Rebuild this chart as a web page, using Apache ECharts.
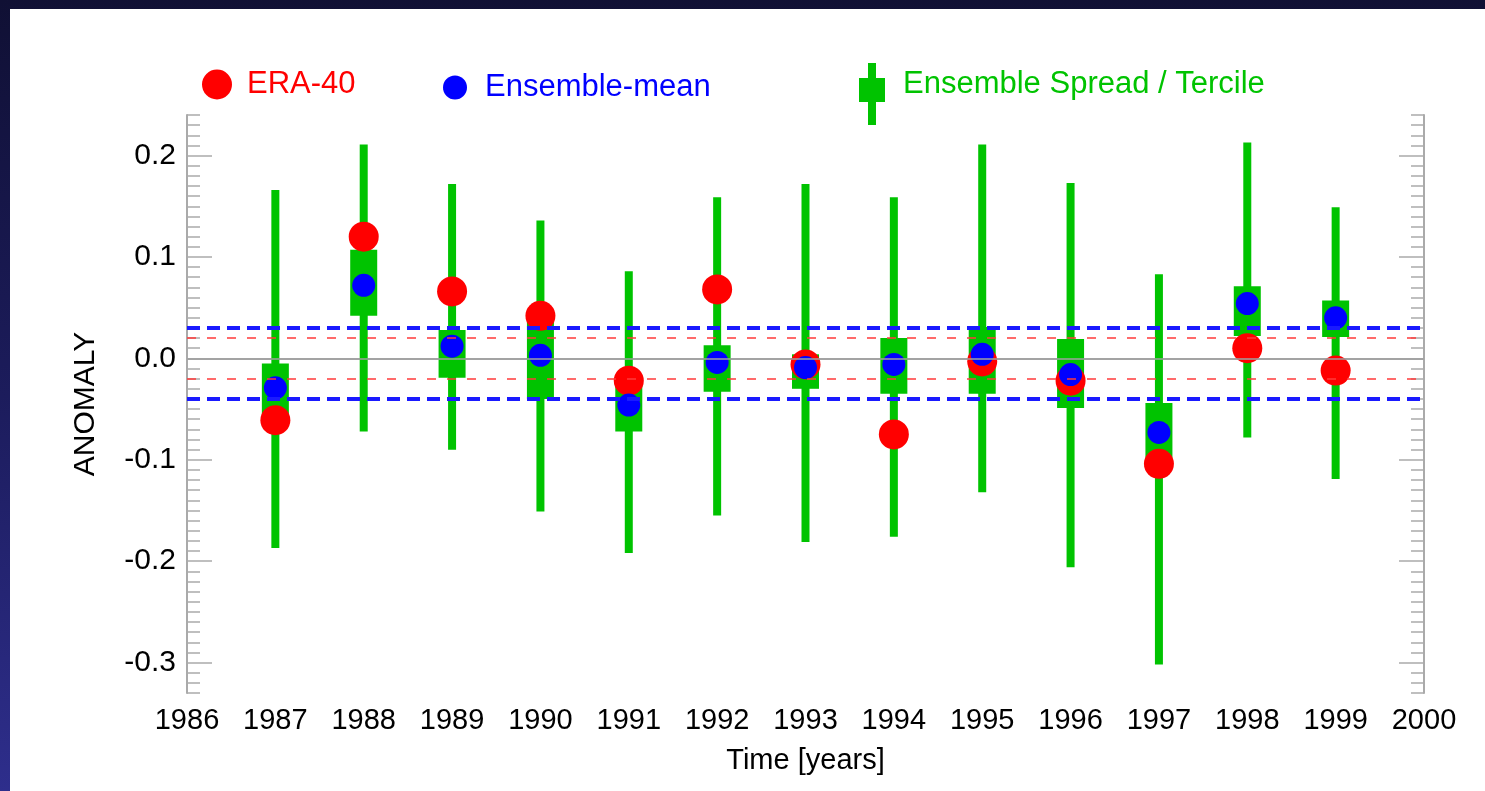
<!DOCTYPE html>
<html>
<head>
<meta charset="utf-8">
<title>ERA-40 vs ensemble anomaly</title>
<script src="https://cdn.jsdelivr.net/npm/echarts@6/dist/echarts.min.js"></script>
<style>
  html, body { margin: 0; padding: 0; }
  body {
    width: 1485px; height: 791px; overflow: hidden; position: relative;
    background: linear-gradient(180deg, #101034 0%, #1c1c5c 50%, #2e2e8c 100%);
  }
  #chart { position: absolute; left: 10px; top: 9px; width: 1475px; height: 782px; background: #fff; }
</style>
</head>
<body>
<div id="chart"></div>
<script>
// data
var years     = [1987, 1988, 1989, 1990, 1991, 1992, 1993, 1994, 1995, 1996, 1997, 1998, 1999];
var era40     = [-0.061, 0.120, 0.066, 0.042, -0.022, 0.068, -0.006, -0.075, -0.003, -0.022, -0.104, 0.010, -0.012];
var ensMean   = [-0.029, 0.072, 0.012, 0.003, -0.046, -0.004, -0.009, -0.006, 0.004, -0.016, -0.073, 0.054, 0.040];
var spreadMin = [-0.187, -0.072, -0.090, -0.151, -0.192, -0.155, -0.181, -0.176, -0.132, -0.206, -0.302, -0.078, -0.119];
var spreadMax = [0.166, 0.211, 0.172, 0.136, 0.086, 0.159, 0.172, 0.159, 0.211, 0.173, 0.083, 0.213, 0.149];
var tercLow   = [-0.062, 0.042, -0.019, -0.040, -0.072, -0.033, -0.030, -0.035, -0.035, -0.049, -0.098, 0.022, 0.021];
var tercHigh  = [-0.005, 0.107, 0.028, 0.036, -0.025, 0.013, 0.004, 0.020, 0.031, 0.019, -0.044, 0.071, 0.057];

// reference lines
var ensBand   = [0.033, -0.035];   // blue dashed
var eraBand   = [0.021, -0.022];   // red dashed
var yTicks    = [-0.3, -0.2, -0.1, 0.0, 0.1, 0.2];

var FONT = "'Liberation Sans', Arial, Helvetica, sans-serif";
var GREEN = '#00c300';
var frame = { show: true, lineStyle: { color: '#aaaaaa', width: 2 } };

var chart = echarts.init(document.getElementById('chart'));

var markData = [{ yAxis: 0, lineStyle: { color: '#a0a0a0', width: 1.5, type: 'solid' } }];
eraBand.forEach(function (v) {
    markData.push({ yAxis: v, lineStyle: { color: '#ff3a3a', width: 1.5, type: [9, 11] } });
});
ensBand.forEach(function (v) {
    markData.push({ yAxis: v, lineStyle: { color: '#1a1aff', width: 4, type: [13, 7] } });
});

var option = {
    animation: false,
    textStyle: { fontFamily: FONT },
    grid: { left: 177, right: 61, top: 106, bottom: 98 },
    legend: [
        {
            left: 192, top: 60, padding: 0, selectedMode: false,
            itemWidth: 30, itemHeight: 30,
            data: [{ name: 'ERA-40', icon: 'circle' }],
            textStyle: { color: '#ff0000', fontSize: 31, fontFamily: FONT, padding: [0, 0, 0, 10] }
        },
        {
            left: 433, top: 63, padding: 0, selectedMode: false,
            itemWidth: 24, itemHeight: 24,
            data: [{ name: 'Ensemble-mean', icon: 'circle' }],
            textStyle: { color: '#0000ff', fontSize: 31, fontFamily: FONT, padding: [0, 0, 0, 13] }
        },
        {
            // tiny stub at y=-20 lifts the icon's box so the label sits level with the others
            left: 849, top: 34, padding: 0, selectedMode: false,
            itemWidth: 26, itemHeight: 82,
            data: [{
                name: 'Ensemble Spread / Tercile',
                icon: 'path://M13,-20 L13.01,-20 L13,-20 Z M9,0 L17,0 L17,15 L26,15 L26,39 L17,39 L17,62 L9,62 L9,39 L0,39 L0,15 L9,15 Z'
            }],
            textStyle: { color: GREEN, fontSize: 31, fontFamily: FONT, padding: [0, 0, 0, 13] }
        }
    ],
    xAxis: [
        {
            type: 'value', position: 'bottom', min: 1986, max: 2000, interval: 1,
            axisLine: frame,
            axisTick: { inside: true, length: 12, lineStyle: { color: '#aaaaaa', width: 1.5 } },
            axisLabel: {
                color: '#000', fontSize: 29, margin: 13, fontFamily: FONT,
                formatter: function (v) { return String(v); }
            },
            splitLine: { show: false },
            name: 'Time [years]', nameLocation: 'middle', nameGap: 53,
            nameTextStyle: { color: '#000', fontSize: 29, fontFamily: FONT }
        },
        {
            type: 'value', position: 'top', min: 1986, max: 2000, interval: 1,
            axisLine: frame,
            axisTick: { inside: true, length: 12, lineStyle: { color: '#aaaaaa', width: 1.5 } },
            axisLabel: { show: false },
            splitLine: { show: false }
        }
    ],
    yAxis: [
        {
            type: 'value', position: 'left', min: -0.33, max: 0.24,
            axisLine: frame,
            axisTick: { inside: true, length: 25, customValues: yTicks, lineStyle: { color: '#aaaaaa', width: 1.5 } },
            axisLabel: {
                customValues: yTicks, color: '#000', fontSize: 30, margin: 11, fontFamily: FONT,
                formatter: function (v) { return v.toFixed(1); }
            },
            splitLine: { show: false },
            name: 'ANOMALY', nameLocation: 'middle', nameGap: 86, nameRotate: 90,
            nameTextStyle: { color: '#000', fontSize: 30, fontFamily: FONT }
        },
        {
            type: 'value', position: 'left', min: -0.33, max: 0.24, interval: 0.01,
            axisLine: { show: false },
            axisTick: { inside: true, length: 13, lineStyle: { color: '#aaaaaa', width: 1.5 } },
            axisLabel: { show: false },
            splitLine: { show: false }
        },
        {
            type: 'value', position: 'right', min: -0.33, max: 0.24,
            axisLine: frame,
            axisTick: { inside: true, length: 25, customValues: yTicks, lineStyle: { color: '#aaaaaa', width: 1.5 } },
            axisLabel: { show: false },
            splitLine: { show: false }
        },
        {
            type: 'value', position: 'right', min: -0.33, max: 0.24, interval: 0.01,
            axisLine: { show: false },
            axisTick: { inside: true, length: 13, lineStyle: { color: '#aaaaaa', width: 1.5 } },
            axisLabel: { show: false },
            splitLine: { show: false }
        }
    ],
    series: [
        {
            name: 'refs', type: 'scatter', data: [], z: 1, silent: true,
            markLine: { symbol: 'none', silent: true, label: { show: false }, data: markData }
        },
        {
            name: 'Ensemble Spread / Tercile', type: 'custom', z: 2,
            itemStyle: { color: GREEN },
            encode: { x: 0, y: [1, 2, 3, 4] },
            data: years.map(function (y, i) {
                return [y, spreadMin[i], spreadMax[i], tercLow[i], tercHigh[i]];
            }),
            renderItem: function (params, api) {
                var x = api.value(0);
                var lo = api.coord([x, api.value(1)]);
                var hi = api.coord([x, api.value(2)]);
                var bLo = api.coord([x, api.value(3)]);
                var bHi = api.coord([x, api.value(4)]);
                var color = api.visual('color');
                return {
                    type: 'group',
                    children: [
                        { type: 'rect', shape: { x: hi[0] - 4, y: hi[1], width: 8, height: lo[1] - hi[1] }, style: { fill: color } },
                        { type: 'rect', shape: { x: bHi[0] - 13.5, y: bHi[1], width: 27, height: bLo[1] - bHi[1] }, style: { fill: color } }
                    ]
                };
            }
        },
        {
            name: 'ERA-40', type: 'scatter', z: 3, symbolSize: 30,
            itemStyle: { color: '#ff0000', opacity: 1 },
            data: years.map(function (y, i) { return [y, era40[i]]; })
        },
        {
            name: 'Ensemble-mean', type: 'scatter', z: 4, symbolSize: 23,
            itemStyle: { color: '#0000ff', opacity: 1 },
            data: years.map(function (y, i) { return [y, ensMean[i]]; })
        }
    ]
};

chart.setOption(option);
</script>
</body>
</html>
